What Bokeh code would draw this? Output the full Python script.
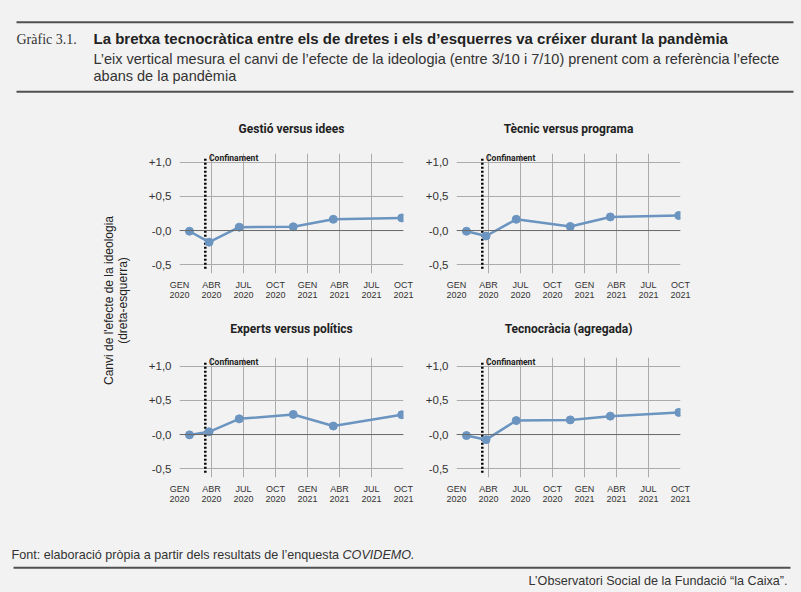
import pandas as pd
from math import pi
from bokeh.plotting import figure
from bokeh.layouts import column, row
from bokeh.models import Range1d, FixedTicker, Label, Span
from bokeh.embed import file_html
from bokeh.resources import INLINE

# ---------------- data ----------------
survey_dates = ["2020-01-30", "2020-03-25", "2020-06-19", "2020-11-21", "2021-03-14", "2021-09-26"]
lockdown_date = "2020-03-14"

panel_titles = ["Gestió versus idees", "Tècnic versus programa",
                "Experts versus polítics", "Tecnocràcia (agregada)"]
gestio_vs_idees = [-0.01, -0.17, 0.05, 0.055, 0.165, 0.185]
tecnic_vs_programa = [-0.01, -0.08, 0.165, 0.06, 0.20, 0.22]
experts_vs_politics = [-0.005, 0.04, 0.23, 0.295, 0.125, 0.29]
tecnocracia_agregada = [-0.015, -0.075, 0.205, 0.215, 0.27, 0.325]

x_tick_months = [0, 3, 6, 9, 12, 15, 18, 21]
x_tick_labels = ["GEN\n2020", "ABR\n2020", "JUL\n2020", "OCT\n2020",
                 "GEN\n2021", "ABR\n2021", "JUL\n2021", "OCT\n2021"]
y_ticks = [-0.5, 0.0, 0.5, 1.0]
y_tick_labels = ["-0,5", "-0,0", "+0,5", "+1,0"]

title_text = "La bretxa tecnocràtica entre els de dretes i els d’esquerres va créixer durant la pandèmia"
subtitle_1 = "L’eix vertical mesura el canvi de l’efecte de la ideologia (entre 3/10 i 7/10) prenent com a referència l’efecte"
subtitle_2 = "abans de la pandèmia"
y_label_1 = "Canvi de l'efecte de la ideologia"
y_label_2 = "(dreta-esquerra)"
source_text = "Font: elaboració pròpia a partir dels resultats de l’enquesta"
source_italic = "COVIDEMO."
credit_text = "L’Observatori Social de la Fundació “la Caixa”."

# ---------------- style ----------------
BG = "#f2f2f2"
BLUE = "#6b95c0"
GRID = "#ababab"
DARK = "#333333"
SANS = "Liberation Sans"
BOLDF = "Roboto"


def to_month(s):
    t = pd.Timestamp(s)
    return (t.year - 2020) * 12 + (t.month - 1) + (t.day - 1) / t.days_in_month


xs = [to_month(d) for d in survey_dates]
x_lock = to_month(lockdown_date)


def text_fig(w, h):
    f = figure(width=w, height=h, x_range=Range1d(0, w), y_range=Range1d(h, 0),
               x_axis_type=None, y_axis_type=None, output_backend="svg",
               toolbar_location=None, min_border=0, outline_line_color=None,
               background_fill_color=BG, border_fill_color=BG)
    f.grid.visible = False
    return f


def panel(title, vals, w, h, bl, br, bt, bb, title_standoff, pad_line=False):
    p = figure(width=w, height=h, x_range=Range1d(0, 21), y_range=Range1d(-0.63, 1.13),
               output_backend="svg", toolbar_location=None,
               title=title + ("\n" if pad_line else ""),
               min_border_left=bl, min_border_right=br, min_border_top=bt, min_border_bottom=bb,
               background_fill_color=BG, border_fill_color=BG, outline_line_color=None)
    p.title.align = "center"
    p.title.text_font = BOLDF
    p.title.text_font_style = "bold"
    p.title.text_font_size = "12px"
    p.title.text_color = "#222222"
    p.title.standoff = title_standoff
    p.xaxis.ticker = FixedTicker(ticks=x_tick_months)
    p.xaxis.major_label_overrides = dict(zip(x_tick_months, x_tick_labels))
    p.yaxis.ticker = FixedTicker(ticks=y_ticks)
    p.yaxis.major_label_overrides = dict(zip(y_ticks, y_tick_labels))
    for ax in (p.xaxis[0], p.yaxis[0]):
        ax.axis_line_color = None
        ax.major_tick_line_color = None
        ax.minor_tick_line_color = None
        ax.major_label_text_color = DARK
        ax.major_label_text_font = SANS
    p.xaxis.major_label_text_font_size = "9px"
    p.xaxis.major_label_text_line_height = 1.0
    p.xaxis.major_label_standoff = 0
    p.yaxis.major_label_text_font_size = "11.5px"
    p.yaxis.major_label_standoff = 2
    p.xgrid.grid_line_color = GRID
    p.ygrid.grid_line_color = GRID
    p.add_layout(Span(location=0, dimension="width", line_color="#6a6a6a", line_width=1))
    p.segment(x0=[x_lock], y0=[-0.56], x1=[x_lock], y1=[1.06], line_color="black",
              line_width=2.5, line_dash="2 2")
    p.add_layout(Label(x=x_lock + 0.35, y=1.13 - 4.5 / (120 / 1.76), text="Confinament",
                       text_font=BOLDF, text_font_style="bold", text_font_size="8.5px",
                       text_color="#222222", text_baseline="middle", text_align="left"))
    p.line(xs, vals, line_color=BLUE, line_width=2.5)
    p.scatter(xs, vals, size=8, fill_color=BLUE, line_color=BLUE)
    return p


# header
W = 801
hdr = text_fig(W, 100)
hdr.line([16, 793], [21.7, 21.7], line_color="#505050", line_width=2)
hdr.line([16, 793], [91.2, 91.2], line_color="#505050", line_width=2)
hdr.add_layout(Label(x=16, y=38.5, text="Gràfic 3.1.", text_font="Liberation Serif",
                     text_font_size="14px", text_color=DARK, text_baseline="middle"))
hdr.add_layout(Label(x=93, y=38, text=title_text, text_font=SANS, text_font_style="bold",
                     text_font_size="15px", text_color="#222222", text_baseline="middle"))
hdr.add_layout(Label(x=93, y=58.5, text=subtitle_1, text_font=SANS,
                     text_font_size="14.5px", text_color=DARK, text_baseline="middle"))
hdr.add_layout(Label(x=93, y=75.5, text=subtitle_2, text_font=SANS,
                     text_font_size="14.5px", text_color=DARK, text_baseline="middle"))

# y label column
ylab = text_fig(135, 414)
ylab.add_layout(Label(x=108, y=200, text=y_label_1, text_font=SANS, text_font_size="12px",
                      text_color="#222222", angle=pi / 2, text_align="center", text_baseline="middle"))
ylab.add_layout(Label(x=122.5, y=200, text=y_label_2, text_font=SANS, text_font_size="12px",
                      text_color="#222222", angle=pi / 2, text_align="center", text_baseline="middle"))

p1 = panel(panel_titles[0], gestio_vs_idees, 285, 208, 44, 17, 53, 35, 35)
p2 = panel(panel_titles[1], tecnic_vs_programa, 381, 208, 36, 121, 53, 35, 35)
p3 = panel(panel_titles[2], experts_vs_politics, 285, 206, 44, 17, 49, 37, 15, True)
p4 = panel(panel_titles[3], tecnocracia_agregada, 381, 206, 36, 121, 49, 37, 15, True)

# footer
ftr = text_fig(W, 78)
ftr.add_layout(Label(x=11, y=40.5, text=source_text, text_font=SANS, text_font_size="12.6px",
                     text_color=DARK, text_baseline="middle"))
ftr.add_layout(Label(x=342, y=40.5, text=source_italic, text_font=SANS, text_font_size="12.6px",
                     text_font_style="italic", text_color=DARK, text_baseline="middle"))
ftr.line([13, 790], [53.3, 53.3], line_color="#505050", line_width=2)
ftr.add_layout(Label(x=787, y=66.5, text=credit_text, text_font=SANS, text_font_size="12.6px",
                     text_color=DARK, text_baseline="middle", text_align="right"))

layout = column(hdr, row(ylab, column(row(p1, p2), row(p3, p4))), ftr,
                spacing=0, background=BG)

html = file_html(layout, INLINE)
html = html.replace("<head>", "<head><style>html,body{background:#f2f2f2;}</style>", 1)
open("out.html", "w").write(html)
